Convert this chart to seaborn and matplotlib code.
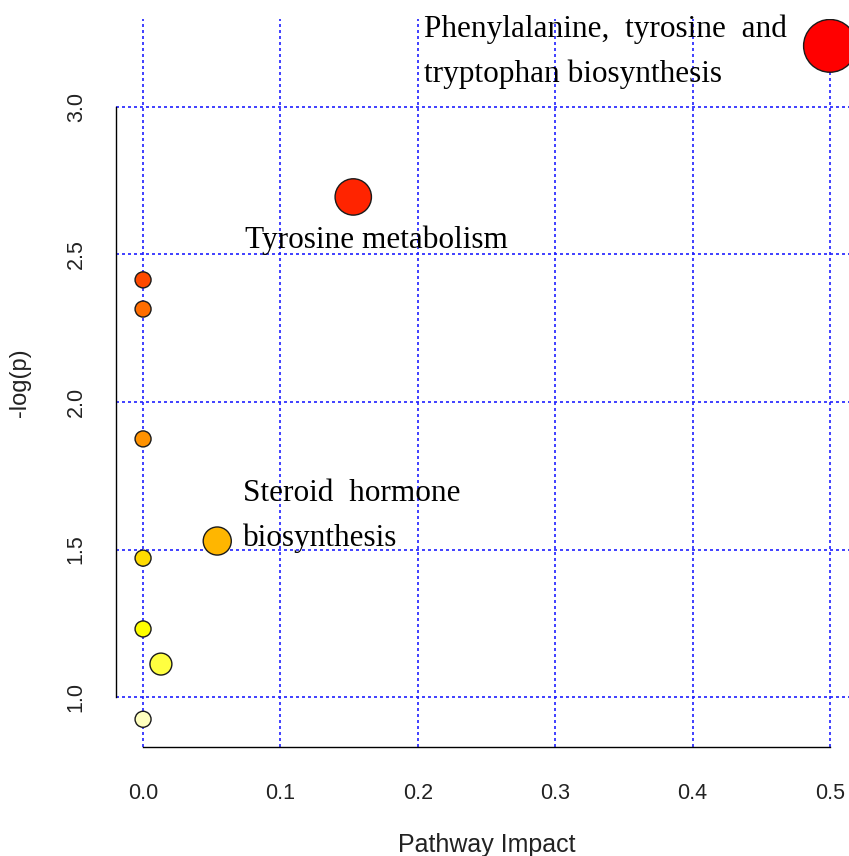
import numpy as np
import pandas as pd
import matplotlib
matplotlib.use("Agg")
import matplotlib.pyplot as plt
import seaborn as sns

# ---- data ----
pathway = ["Phenylalanine,  tyrosine  and\ntryptophan biosynthesis",
           "Tyrosine metabolism", "p3", "p4", "p5",
           "Steroid  hormone\nbiosynthesis", "p7", "p8", "p9", "p10"]
impact = [0.5, 0.153, 0.0, 0.0, 0.0, 0.054, 0.0, 0.0, 0.013, 0.0]
neglogp = [3.207, 2.695, 2.414, 2.315, 1.875, 1.529, 1.471, 1.231, 1.112, 0.925]
labelled = [True, True, False, False, False, True, False, False, False, False]
xticks = [0.0, 0.1, 0.2, 0.3, 0.4, 0.5]
yticks = [1.0, 1.5, 2.0, 2.5, 3.0]

# R heat.colors(10), ordered by significance
heat = ["#FF0000", "#FF2400", "#FF4900", "#FF6D00", "#FF9200",
        "#FFB600", "#FFDB00", "#FFFF00", "#FFFF40", "#FFFFBF"]

df = pd.DataFrame({"pathway": pathway, "impact": impact, "neglogp": neglogp})

sns.set_theme(style="white")
plt.rcParams["font.family"] = ["Liberation Sans", "DejaVu Sans"]

W, H = 849, 856
fig = plt.figure(figsize=(W / 100, H / 100), dpi=100)
L, R, T, B = 116, 858, 19, 747
ax = fig.add_axes([L / W, 1 - B / H, (R - L) / W, (B - T) / H])

# marker area: diameter (px) grows with sqrt(impact)
def area(v):
    d_px = 16 + 52 * np.sqrt(v)
    return (d_px * 0.72) ** 2

size_map = {v: area(v) for v in sorted(set(impact))}

sns.scatterplot(data=df, x="impact", y="neglogp", hue="pathway",
                palette=heat, size="impact", sizes=size_map,
                edgecolor="#1a1a1a", linewidth=1.0, legend=False,
                ax=ax, zorder=3, clip_on=True)

ax.set_xlim(-0.0197, 0.5204)
ax.set_ylim(0.831, 3.298)
ax.set_xticks(xticks)
ax.set_yticks(yticks)
ax.set_xticklabels([f"{t:.1f}" for t in xticks])
ax.set_yticklabels([f"{t:.1f}" for t in yticks], rotation=90, va="center")

ax.grid(True, color="#2020FF", linestyle=(0, (1.8, 1.8)), linewidth=1.2)
ax.set_axisbelow(True)

for s in ["top", "right"]:
    ax.spines[s].set_visible(False)
ax.spines["left"].set_bounds(1.0, 3.0)
ax.spines["bottom"].set_bounds(0.0, 0.5)
for s in ["left", "bottom"]:
    ax.spines[s].set_color("black")
    ax.spines[s].set_linewidth(1.0)

ax.tick_params(axis="both", direction="out", length=10, width=1.0,
               color="black", labelsize=15.5, labelcolor="#222222")
ax.tick_params(axis="x", pad=16)
ax.tick_params(axis="y", pad=11)

ax.set_xlabel("Pathway Impact", fontsize=18, color="#222222", va="center")
ax.set_ylabel("-log(p)", fontsize=17, color="#222222", va="center")
ax.xaxis.set_label_coords(0.5, (B - 845) / (B - T))
ax.yaxis.set_label_coords((20 - L) / (R - L), 0.5)

# labels, offset from their points (pixels -> points)
offsets = {0: (-406, -6, "left"), 1: (-108, -43, "left"), 5: (26, 25, "left")}
for i, (x, y, name) in enumerate(zip(impact, neglogp, pathway)):
    if not labelled[i]:
        continue
    dx, dy, ha = offsets[i]
    ax.annotate(name, xy=(x, y), xytext=(dx * 0.72, dy * 0.72),
                textcoords="offset points", ha=ha, va="center",
                fontsize=22.5, family=["Liberation Serif", "DejaVu Serif"],
                color="black", linespacing=1.69, zorder=4)

fig.savefig("out.png", dpi=100)
